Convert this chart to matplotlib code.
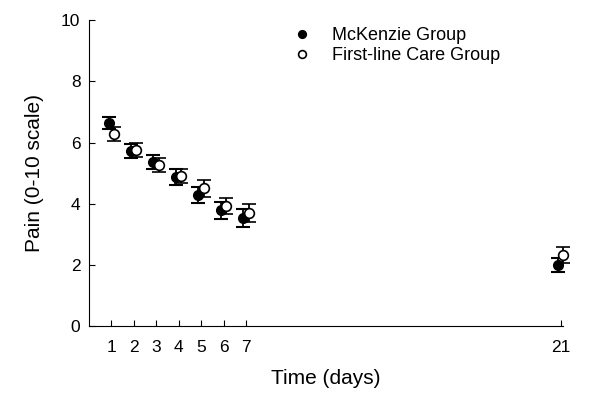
import numpy as np
import matplotlib.pyplot as plt

plt.rcParams['font.family'] = ['Liberation Sans', 'DejaVu Sans']

days = [1, 2, 3, 4, 5, 6, 7, 21]
mckenzie_mean = [6.63, 5.72, 5.36, 4.87, 4.28, 3.79, 3.53, 2.00]
mckenzie_err = [0.20, 0.24, 0.23, 0.25, 0.27, 0.28, 0.29, 0.22]
firstline_mean = [6.28, 5.75, 5.26, 4.90, 4.50, 3.92, 3.69, 2.32]
firstline_err = [0.23, 0.23, 0.24, 0.24, 0.27, 0.27, 0.30, 0.27]

fig, ax = plt.subplots(figsize=(6, 4.03), dpi=100)
fig.subplots_adjust(left=0.148, right=0.938, bottom=0.191, top=0.950)

x = np.array(days, dtype=float)
black = ax.errorbar(x - 0.12, mckenzie_mean, yerr=mckenzie_err, fmt='o', color='black',
                    mfc='black', mec='black', ms=7, elinewidth=1.3, capsize=5, capthick=1.5,
                    label='McKenzie Group', zorder=3)
white = ax.errorbar(x + 0.12, firstline_mean, yerr=firstline_err, fmt='o', color='black',
                    mfc='white', mec='black', ms=7, mew=1.2, elinewidth=1.3, capsize=5,
                    capthick=1.5, label='First-line Care Group', zorder=4)
# let the day-21 marks run past the axis end
for container in (black, white):
    for artist in container.get_children():
        artist.set_clip_on(False)

ax.set_xlim(0, 21.1)
ax.set_ylim(0, 10)
ax.set_xticks(days)
ax.set_yticks([0, 2, 4, 6, 8, 10])
ax.spines['top'].set_visible(False)
ax.spines['right'].set_visible(False)
ax.tick_params(direction='in', length=4)
ax.tick_params(axis='x', pad=10, labelsize=12.5)
ax.tick_params(axis='y', pad=6, labelsize=12.5)
ax.set_xlabel('Time (days)', fontsize=15, labelpad=10)
ax.set_ylabel('Pain (0-10 scale)', fontsize=15, labelpad=12)

handles, labels = ax.get_legend_handles_labels()
handles = [h[0] for h in handles]
ax.legend(handles, labels, loc='upper left', bbox_to_anchor=(0.378, 1.03), frameon=False,
          fontsize=13, handletextpad=0.65, labelspacing=0.15, markerscale=0.8)

fig.savefig('out.png')
